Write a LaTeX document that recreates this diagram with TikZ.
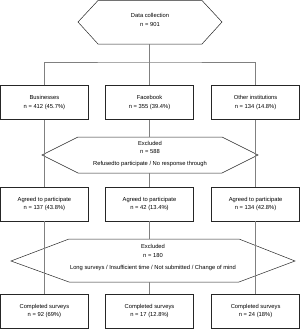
\documentclass[tikz,border=0pt]{standalone}
\usepackage{fontspec}
\setmainfont{Liberation Sans}
\begin{document}
\begin{tikzpicture}[x=1pt,y=-1pt,
  txt/.style={align=center, inner sep=0pt, font=\fontsize{5.8}{8.5}\selectfont},
  box/.style={txt, draw=black!85, line width=0.5pt, minimum width=88pt, minimum height=34pt},
  hexa/.style={draw=black!85, line width=0.5pt},
  conn/.style={draw=black!50, line width=0.5pt}]
\useasboundingbox (0,0) rectangle (300,330);

% top hexagon
\draw[hexa] (78,22) -- (98,0.5) -- (202,0.5) -- (222,22) -- (202,44) -- (98,44) -- cycle;
\node[txt] (top) at (150,20) {Data collection\\n = 901};
\coordinate (topS) at (149.5,44);
\coordinate (split) at (149.5,62);

% row 1
\node[box] (b1) at (44.4,102.5) {Businesses\\n = 412 (45.7\%)};
\node[box] (b2) at (149.5,102.5) {Facebook\\n = 355 (39.4\%)};
\node[box] (b3) at (255.6,102.5) {Other institutions\\n = 134 (14.8\%)};

% excluded 1
\draw[hexa] (42,155) -- (78,137) -- (222,137) -- (258,155) -- (222,173) -- (78,173) -- cycle;
\node[txt] (ex1) at (150,154) {Excluded\\n = 588\\[3.5pt]Refusedto participate / No response through};
\coordinate (ex1N) at (149.5,137);
\coordinate (ex1S) at (149.5,173);

% row 2
\node[box] (a1) at (44.4,204) {Agreed to participate\\n = 137 (43.8\%)};
\node[box] (a2) at (149.5,204) {Agreed to participate\\n = 42 (13.4\%)};
\node[box] (a3) at (255.6,204) {Agreed to participate\\n = 134 (42.8\%)};

% excluded 2
\draw[hexa] (11,261) -- (69,239) -- (239,239) -- (295,261) -- (239,282) -- (69,282) -- cycle;
\node[txt] (ex2) at (153,257.5) {Excluded\\n = 180\\[3.5pt]Long surveys / Insufficient time / Not submitted / Change of mind};
\coordinate (ex2N) at (149.5,239);
\coordinate (ex2S) at (149.5,282);

% row 3
\node[box] (c1) at (44.4,311) {Completed surveys\\n = 92 (69\%)};
\node[box] (c2) at (149.5,311) {Completed surveys\\n = 17 (12.8\%)};
\node[box] (c3) at (255.6,311) {Completed surveys\\n = 24 (18\%)};

% connectors
\draw[conn] (topS) -- (split);
\draw[conn] (b1.north) |- (split) -| (b3.north);
\draw[conn] (split) -- (b2.north);
\draw[conn] (b1.south) -- (a1.north);
\draw[conn] (b3.south) -- (a3.north);
\draw[conn] (b2.south) -- (ex1N);
\draw[conn] (ex1S) -- (a2.north);
\draw[conn] (a1.south) -- (c1.north);
\draw[conn] (a3.south) -- (c3.north);
\draw[conn] (a2.south) -- (ex2N);
\draw[conn] (ex2S) -- (c2.north);
\end{tikzpicture}
\end{document}
